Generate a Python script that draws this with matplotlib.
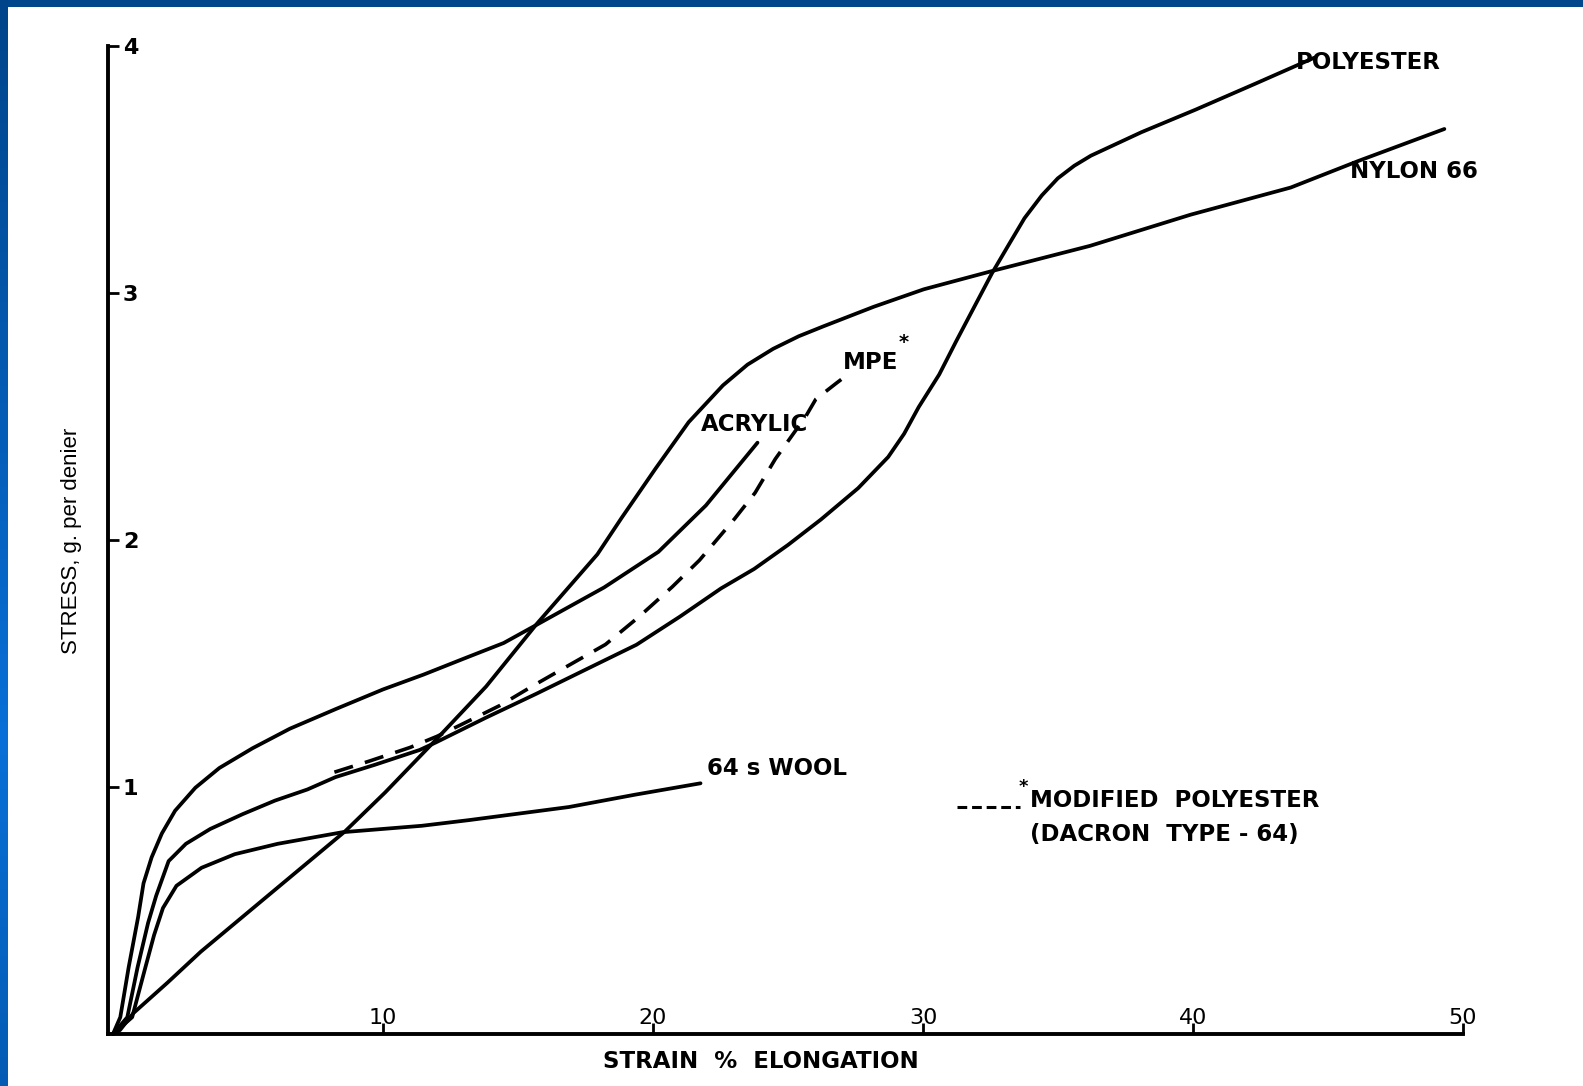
import matplotlib
matplotlib.use("Agg")
import matplotlib.pyplot as plt
import numpy as np

plt.rcParams['lines.scale_dashes'] = False

# ---------------- data ----------------
acrylic_x = [0, 0.27, 0.58, 0.93, 1.13, 1.43, 1.81, 2.30, 3.05, 3.94, 5.17, 6.55, 8.26, 10.0, 11.5,
             13.0, 14.47, 15.58, 16.9, 18.19, 20.2, 21.96, 23.87]
acrylic_y = [0, 0.068, 0.27, 0.473, 0.61, 0.715, 0.812, 0.904, 0.997, 1.077, 1.157, 1.236, 1.316, 1.395, 1.455,
             1.52, 1.583, 1.65, 1.73, 1.808, 1.952, 2.14, 2.394]

polyester_x = [0, 0.53, 0.91, 1.30, 1.60, 2.06, 2.7, 3.6, 4.8, 6.0, 7.2, 8.24, 9.7, 11.36, 11.95, 13.8,
               15.67, 17.5, 19.39, 21.0, 22.52, 23.75, 25.0, 26.22, 27.6, 28.71, 29.3, 29.84, 30.6, 31.24,
               31.88, 32.56, 33.2, 33.76, 34.4, 34.99, 35.6, 36.22, 38.09, 40.09, 42.3, 44.48]
polyester_y = [0, 0.068, 0.27, 0.45, 0.56, 0.70, 0.77, 0.83, 0.89, 0.945, 0.99, 1.04, 1.09, 1.15, 1.18, 1.28,
               1.377, 1.475, 1.576, 1.69, 1.804, 1.883, 1.98, 2.083, 2.21, 2.336, 2.43, 2.538, 2.67, 2.807,
               2.94, 3.081, 3.20, 3.303, 3.395, 3.464, 3.515, 3.556, 3.651, 3.742, 3.847, 3.952]

nylon_x = [0, 0.26, 0.75, 2.02, 3.25, 5.75, 8.59, 10.08, 11.95, 13.82, 15.7, 17.94, 18.84, 20.1, 21.32,
           22.59, 23.5, 24.45, 25.4, 26.31, 28.17, 30.03, 32.56, 36.19, 39.91, 43.62, 46.11, 49.31]
nylon_y = [0, 0.016, 0.084, 0.208, 0.333, 0.561, 0.82, 0.978, 1.19, 1.407, 1.661, 1.942, 2.09, 2.29, 2.477,
           2.626, 2.71, 2.774, 2.825, 2.865, 2.944, 3.015, 3.089, 3.191, 3.317, 3.427, 3.534, 3.664]

wool_x = [0, 0.71, 1.2, 1.52, 1.85, 2.35, 3.28, 4.51, 6.1, 8.5, 11.44, 13.19, 16.89, 19.34, 21.76]
wool_y = [0, 0.068, 0.27, 0.40, 0.51, 0.60, 0.673, 0.728, 0.77, 0.817, 0.843, 0.866, 0.919, 0.969, 1.015]

mpe_x = [8.2, 9.5, 11.0, 12.0, 12.85, 14.33, 15.56, 16.76, 18.24, 19.48, 20.71, 21.72, 23.03, 23.78,
         24.53, 25.66, 26.03, 26.78, 27.26]
mpe_y = [1.06, 1.105, 1.16, 1.205, 1.25, 1.33, 1.41, 1.485, 1.577, 1.689, 1.81, 1.918, 2.087, 2.191,
         2.328, 2.501, 2.57, 2.634, 2.674]

x_ticks = [10, 20, 30, 40, 50]
x_tick_labels = ["10", "20", "30", "40", "50"]
y_ticks = [1, 2, 3, 4]
y_tick_labels = ["1", "2", "3", "4"]

# ---------------- figure ----------------
W, H = 1583, 1086
fig = plt.figure(figsize=(W / 100, H / 100), dpi=100)
fig.patch.set_facecolor("white")

# blue frame (top band + left gradient band)
top = np.zeros((7, W, 3))
top[:] = np.array([0, 70, 140]) / 255.0
fig.figimage(top, xo=0, yo=H - 7, origin="upper")
rows = np.linspace(0, 1, H)
dark = np.array([0, 68, 138]) / 255.0
bright = np.array([8, 112, 216]) / 255.0
w = np.clip(1 - np.abs(rows - 0.68) / 0.68, 0, 1)
left = (dark[None, :] * (1 - w[:, None]) + bright[None, :] * w[:, None])
left = np.repeat(left[:, None, :], 8, axis=1)
fig.figimage(left, xo=0, yo=0, origin="upper")

ax_left, ax_right = 107.6, 1463
ax_bottom_px, ax_top_px = 1034, 46
ax = fig.add_axes([ax_left / W, (H - ax_bottom_px) / H,
                   (ax_right - ax_left) / W, (ax_bottom_px - ax_top_px) / H])
ax.set_xlim(-0.2, 50)
ax.set_ylim(0, 4)
ax.set_facecolor("none")
for s in ["top", "right"]:
    ax.spines[s].set_visible(False)
for s in ["left", "bottom"]:
    ax.spines[s].set_linewidth(2.8)
    ax.spines[s].set_color("black")
    ax.spines[s].set_capstyle("projecting")

lw = 2.7
kw = dict(color="black", lw=lw, clip_on=False, solid_capstyle="round", solid_joinstyle="round")
ax.plot(acrylic_x, acrylic_y, **kw)
ax.plot(polyester_x, polyester_y, **kw)
ax.plot(nylon_x, nylon_y, **kw)
ax.plot(wool_x, wool_y, **kw)
ax.plot(mpe_x, mpe_y, color="black", lw=2.6, dashes=(14, 9), clip_on=False)

# ticks (inside, labels inside)
ax.set_xticks(x_ticks)
ax.set_xticklabels(x_tick_labels, va="bottom", fontsize=16, family="DejaVu Sans")
ax.set_yticks(y_ticks)
ax.set_yticklabels(y_tick_labels, ha="left", fontsize=16, family="DejaVu Sans", fontweight="bold")
ax.tick_params(axis="x", direction="in", length=8, width=2, pad=-4)
ax.tick_params(axis="y", direction="in", length=8, width=2, pad=-11)

# curve labels
lab = dict(fontsize=16.5, fontweight="bold", family="DejaVu Sans", color="black")
ax.text(43.81, 3.935, "POLYESTER", ha="left", va="center", **lab)
ax.text(45.81, 3.49, "NYLON 66", ha="left", va="center", **lab)
ax.text(23.75, 2.466, "ACRYLIC", ha="center", va="center", **lab)
ax.text(27.04, 2.72, "MPE", ha="left", va="center", **lab)
ax.text(29.1, 2.80, "*", ha="left", va="center", fontsize=14, fontweight="bold", color="black")
ax.text(22.0, 1.073, "64 s WOOL", ha="left", va="center", **lab)

# legend for dashed curve
ax.plot([31.26, 33.59], [0.919, 0.919], color="black", lw=2.2, dashes=(7, 3.5), clip_on=False)
ax.text(33.55, 1.0, "*", ha="left", va="center", fontsize=13, fontweight="bold", color="black")
ax.text(33.96, 0.947, "MODIFIED  POLYESTER", ha="left", va="center", **lab)
ax.text(33.96, 0.806, "(DACRON  TYPE - 64)", ha="left", va="center", **lab)

# axis titles
fig.text(761 / W, 1 - 1061 / H, "STRAIN  %  ELONGATION", ha="center", va="center",
         fontsize=16.5, fontweight="bold", family="DejaVu Sans")
fig.text(71 / W, 1 - 541 / H, "STRESS, g. per denier", ha="center", va="center",
         rotation=90, fontsize=16, family="Liberation Sans")

fig.savefig("out.png", dpi=100)
